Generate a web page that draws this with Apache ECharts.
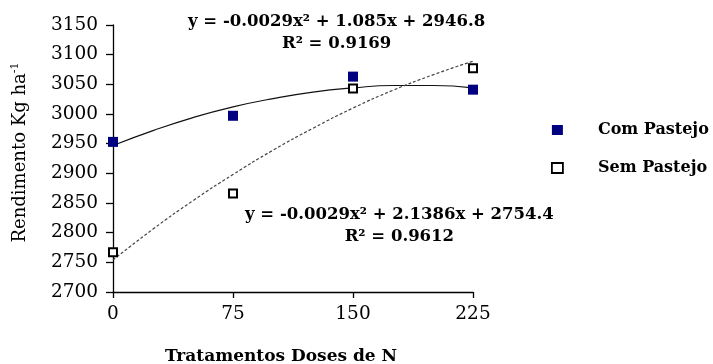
<!DOCTYPE html>
<html>
<head>
<meta charset="utf-8">
<script src="https://cdn.jsdelivr.net/npm/echarts@6/dist/echarts.min.js"></script>
<style>
  html, body { margin: 0; padding: 0; background: #fff; }
  #chart { width: 713px; height: 364px; }
</style>
</head>
<body>
<div id="chart"></div>
<script>
// Rendimento x doses de N — pontos observados + curvas de tendência (polinomial 2º grau)
const DOSES = [0, 75, 150, 225];
const COM_PASTEJO = [2953, 2997, 3063, 3041];
const SEM_PASTEJO = [2767, 2866, 3043, 3077];

// curvas
const CURVE_X   = [0, 25, 50, 75, 100, 125, 150, 175, 200, 225];
const CURVE_COM = [2947, 2972, 2994, 3012, 3026, 3037, 3044, 3048, 3048, 3044];
const CURVE_SEM = [2754, 2806, 2854, 2898, 2939, 2976, 3010, 3040, 3066, 3089];

const Y_TICKS = { min: 2700, max: 3150, step: 50 };
const X_TICKS = { min: 0, max: 225, step: 75 };

const EQ_COM = ["y = -0.0029x² + 1.085x + 2946.8", "R² = 0.9169"];
const EQ_SEM = ["y = -0.0029x² + 2.1386x + 2754.4", "R² = 0.9612"];

const FONT = "DejaVu Serif";
const NAVY = "#000080";

const chart = echarts.init(document.getElementById("chart"), null, { renderer: "canvas" });

const pair = (xs, ys) => xs.map((x, i) => [x, ys[i]]);

// left = borda esquerda do bloco de texto
const eqText = (lines, left, top) => ({
  type: "text", left, top,
  style: {
    text: lines.join("\n"), textAlign: "center",
    font: "bold 16.5px '" + FONT + "'", fill: "#000", lineHeight: 22,
  },
});

chart.setOption({
  backgroundColor: "#fff",
  animation: false,
  textStyle: { fontFamily: FONT },
  grid: { left: 113, right: 240, top: 25, bottom: 72, outerBoundsMode: "none", containLabel: false },
  xAxis: {
    type: "value", min: X_TICKS.min, max: X_TICKS.max, interval: X_TICKS.step,
    name: "Tratamentos Doses de N", nameLocation: "middle", nameGap: 56,
    nameTextStyle: { color: "#000", fontSize: 17, fontWeight: "bold", fontFamily: FONT, padding: [0, 24, 0, 0] },
    axisLine: { lineStyle: { color: "#000", width: 1.3 } },
    axisTick: { inside: false, length: 6, lineStyle: { color: "#000", width: 1.3 } },
    axisLabel: { color: "#000", fontSize: 18.5, margin: 13, fontFamily: FONT, formatter: v => String(v) },
    splitLine: { show: false },
  },
  yAxis: {
    type: "value", min: Y_TICKS.min, max: Y_TICKS.max, interval: Y_TICKS.step,
    name: "{a|Rendimento Kg ha}{s|-1}", nameLocation: "middle", nameGap: 82, nameRotate: 90,
    nameTextStyle: {
      color: "#000", fontFamily: FONT, padding: [0, 0, 0, 12],
      rich: {
        a: { fontSize: 18, fontFamily: FONT, color: "#000" },
        s: { fontSize: 11, fontFamily: FONT, color: "#000", verticalAlign: "top", padding: [0, 0, 10, 0] },
      },
    },
    axisLine: { show: true, lineStyle: { color: "#000", width: 1.3 } },
    axisTick: { show: true, inside: false, length: 7, lineStyle: { color: "#000", width: 1.3 } },
    axisLabel: { color: "#000", fontSize: 18.5, margin: 15, fontFamily: FONT, formatter: v => String(v) },
    splitLine: { show: false },
  },
  legend: {
    orient: "vertical", left: 546, top: 117, itemGap: 22,
    itemWidth: 11, itemHeight: 10, selectedMode: false,
    textStyle: { color: "#000", fontSize: 16, fontWeight: "bold", fontFamily: FONT, padding: [0, 0, 0, 30] },
    data: [
      { name: "Com Pastejo", icon: "rect" },
      { name: "Sem Pastejo", icon: "rect", itemStyle: { color: "#fff", borderColor: "#000", borderWidth: 1.8 } },
    ],
  },
  graphic: [
    eqText(EQ_COM, 188, 11),
    eqText(EQ_SEM, 245, 204),
  ],
  series: [
    {
      name: "tendência com", type: "line", data: pair(CURVE_X, CURVE_COM),
      smooth: true, symbol: "none", silent: true, z: 2,
      lineStyle: { color: "#111", width: 1.2 },
    },
    {
      name: "tendência sem", type: "line", data: pair(CURVE_X, CURVE_SEM),
      smooth: true, symbol: "none", silent: true, z: 2,
      lineStyle: { color: "#444", width: 1.2, type: [3, 2] },
    },
    {
      name: "Com Pastejo", type: "scatter", data: pair(DOSES, COM_PASTEJO),
      symbol: "rect", symbolSize: 10, z: 4,
      itemStyle: { color: NAVY, opacity: 1 },
    },
    {
      name: "Sem Pastejo", type: "scatter", data: pair(DOSES, SEM_PASTEJO),
      symbol: "rect", symbolSize: 8, z: 5,
      itemStyle: { color: "#fff", borderColor: "#000", borderWidth: 2, opacity: 1 },
    },
  ],
});
</script>
</body>
</html>
